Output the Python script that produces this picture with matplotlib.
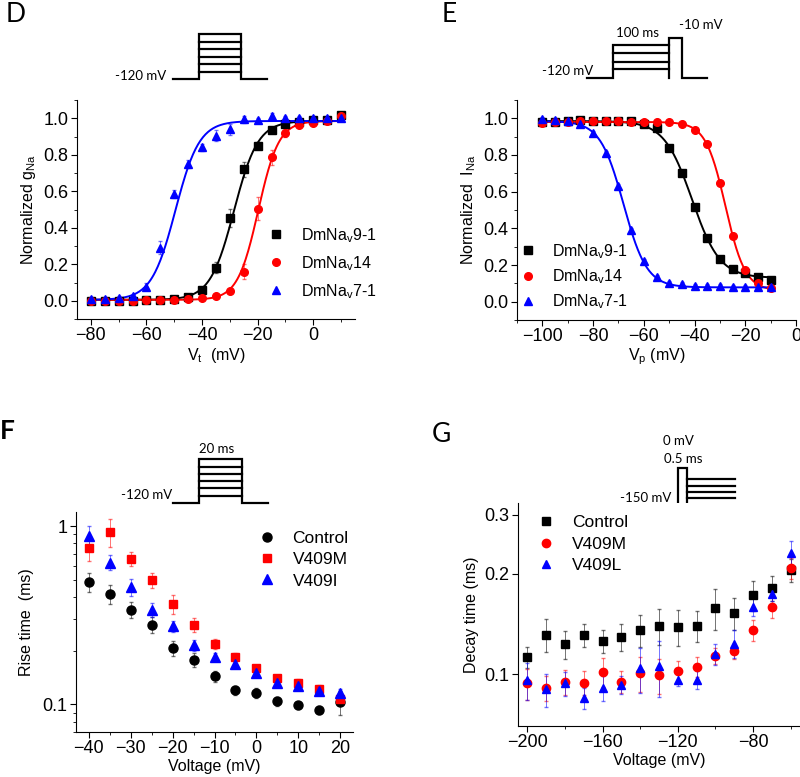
import numpy as np
import matplotlib
matplotlib.use('Agg')
import matplotlib.pyplot as plt
from matplotlib.ticker import MultipleLocator, FixedLocator, NullLocator, FixedFormatter

plt.rcParams['font.family'] = ['Liberation Sans', 'DejaVu Sans']
plt.rcParams['mathtext.fontset'] = 'custom'
plt.rcParams['mathtext.rm'] = 'Liberation Sans'
plt.rcParams['mathtext.it'] = 'Liberation Sans:italic'
plt.rcParams['font.size'] = 11.5

# ---- panel D : activation ----
vt = [-80, -75, -70, -65, -60, -55, -50, -45, -40, -35, -30, -25, -20, -15, -10, -5, 0, 5, 10]
d_91 = [0.0, 0.0, 0.0, 0.0, 0.005, 0.005, 0.01, 0.02, 0.058, 0.18, 0.455, 0.72, 0.85, 0.935, 0.97, 0.98, 0.99, 0.99, 1.02]
d_91_err = [0.005, 0.005, 0.005, 0.005, 0.005, 0.005, 0.005, 0.01, 0.01, 0.03, 0.05, 0.04, 0.02, 0.015, 0.01, 0.01, 0.01, 0.01, 0.01]
d_14 = [0.0, 0.0, 0.0, 0.0, 0.005, 0.005, 0.005, 0.01, 0.013, 0.027, 0.055, 0.16, 0.505, 0.785, 0.92, 0.965, 0.975, 0.985, 1.01]
d_14_err = [0.005, 0.005, 0.005, 0.005, 0.005, 0.005, 0.005, 0.005, 0.005, 0.01, 0.01, 0.04, 0.065, 0.04, 0.02, 0.01, 0.01, 0.01, 0.01]
d_71 = [0.012, 0.012, 0.015, 0.025, 0.078, 0.29, 0.585, 0.75, 0.84, 0.905, 0.94, 0.995, 0.99, 1.01, 1.0, 1.0, 1.0, 1.0, 1.0]
d_71_err = [0.01, 0.01, 0.01, 0.01, 0.02, 0.035, 0.02, 0.02, 0.02, 0.03, 0.03, 0.02, 0.01, 0.02, 0.01, 0.01, 0.01, 0.01, 0.01]
# Boltzmann fits: v_half, slope
d_fit = {'91': (-28.5, 4.3), '14': (-19.8, 3.7), '71': (-49.6, 4.3)}

# ---- panel E : inactivation ----
vp = [-100, -95, -90, -85, -80, -75, -70, -65, -60, -55, -50, -45, -40, -35, -30, -25, -20, -15, -10]
e_91 = [0.98, 0.98, 0.985, 0.99, 0.985, 0.985, 0.985, 0.985, 0.967, 0.945, 0.84, 0.70, 0.515, 0.345, 0.23, 0.178, 0.155, 0.136, 0.118]
e_14 = [0.975, 0.98, 0.98, 0.985, 0.985, 0.985, 0.985, 0.98, 0.98, 0.98, 0.98, 0.967, 0.937, 0.858, 0.645, 0.358, 0.173, 0.104, 0.072]
e_71 = [0.995, 0.99, 0.985, 0.97, 0.92, 0.81, 0.63, 0.39, 0.223, 0.133, 0.104, 0.095, 0.088, 0.085, 0.085, 0.082, 0.08, 0.08, 0.078]
e_err = [0.01] * 19
# top, bottom, v_half, slope
e_fit = {'91': (0.985, 0.13, -41.0, 5.5), '14': (0.98, 0.06, -27.8, 3.9), '71': (0.985, 0.078, -68.0, 4.6)}

# ---- panel F : rise time ----
vf = [-40, -35, -30, -25, -20, -15, -10, -5, 0, 5, 10, 15, 20]
f_ctrl = [0.487, 0.418, 0.340, 0.280, 0.208, 0.178, 0.144, 0.120, 0.116, 0.104, 0.0987, 0.0933, 0.103]
f_ctrl_err = [0.06, 0.05, 0.035, 0.03, 0.02, 0.015, 0.01, 0.007, 0.007, 0.006, 0.005, 0.005, 0.016]
f_m = [0.756, 0.929, 0.658, 0.497, 0.366, 0.279, 0.219, 0.185, 0.159, 0.141, 0.132, 0.1226, 0.1076]
f_m_err = [0.12, 0.17, 0.06, 0.05, 0.045, 0.025, 0.015, 0.01, 0.008, 0.006, 0.006, 0.006, 0.006]
f_i = [0.879, 0.625, 0.456, 0.340, 0.275, 0.214, 0.185, 0.169, 0.150, 0.132, 0.126, 0.119, 0.116]
f_i_err = [0.12, 0.06, 0.05, 0.03, 0.02, 0.015, 0.01, 0.01, 0.008, 0.006, 0.006, 0.006, 0.006]

# ---- panel G : decay time ----
vg = [-200, -190, -180, -170, -160, -150, -140, -130, -120, -110, -100, -90, -80, -70, -60]
g_ctrl = [0.1127, 0.1314, 0.1227, 0.131, 0.1255, 0.1294, 0.1354, 0.1395, 0.1386, 0.1395, 0.1576, 0.1525, 0.1723, 0.1812, 0.2047]
g_ctrl_err = [0.008, 0.015, 0.012, 0.01, 0.01, 0.012, 0.015, 0.017, 0.017, 0.015, 0.022, 0.017, 0.018, 0.016, 0.016]
g_m = [0.0938, 0.0910, 0.0949, 0.0944, 0.1016, 0.0949, 0.1005, 0.0993, 0.1023, 0.1052, 0.1134, 0.1172, 0.1354, 0.159, 0.208]
g_m_err = [0.01, 0.008, 0.008, 0.008, 0.01, 0.007, 0.012, 0.012, 0.007, 0.007, 0.006, 0.006, 0.01, 0.012, 0.015]
g_l = [0.096, 0.090, 0.0938, 0.0849, 0.091, 0.0931, 0.1040, 0.1057, 0.096, 0.096, 0.1148, 0.1235, 0.159, 0.1732, 0.2307]
g_l_err = [0.012, 0.01, 0.008, 0.006, 0.008, 0.006, 0.016, 0.02, 0.004, 0.006, 0.008, 0.012, 0.01, 0.008, 0.02]

BLACK, RED, BLUE = 'black', '#ff0000', '#0000ff'
W, H = 800, 777

fig = plt.figure(figsize=(8, 7.77), dpi=100)


def make_ax(l, t, r, b):
    ax = fig.add_axes([l / W, 1 - b / H, (r - l) / W, (b - t) / H])
    ax.spines['top'].set_visible(False)
    ax.spines['right'].set_visible(False)
    ax.tick_params(which='both', direction='out', labelsize=13, pad=2)
    ax.tick_params(which='major', length=4)
    ax.tick_params(which='minor', length=2.5)
    return ax


def errpts(ax, x, y, e, color, marker, ms, label):
    ax.errorbar(x, y, yerr=e, fmt='none', ecolor=color, elinewidth=0.7, capsize=1.5, alpha=0.55, zorder=2)
    ax.plot(x, y, linestyle='none', marker=marker, color=color, ms=ms, label=label, zorder=3)


lab91 = r'DmNa$_\mathrm{v}$9-1'
lab14 = r'DmNa$_\mathrm{v}$14'
lab71 = r'DmNa$_\mathrm{v}$7-1'
leg_kw = dict(frameon=False, handletextpad=1.0, handlelength=1.0)

# ---------- D ----------
axD = make_ax(77, 100, 355, 319)
xx = np.linspace(-80, 10, 300)
for key, col in [('91', BLACK), ('14', RED), ('71', BLUE)]:
    vh, k = d_fit[key]
    axD.plot(xx, 0.005 + 0.98 / (1 + np.exp((vh - xx) / k)), color=col, lw=1.4, zorder=1)
errpts(axD, vt, d_91, d_91_err, BLACK, 's', 5.5, lab91)
errpts(axD, vt, d_14, d_14_err, RED, 'o', 5.5, lab14)
errpts(axD, vt, d_71, d_71_err, BLUE, '^', 6, lab71)
axD.set_xlim(-85, 15)
axD.set_ylim(-0.1, 1.1)
axD.xaxis.set_major_locator(MultipleLocator(20))
axD.xaxis.set_minor_locator(MultipleLocator(10))
axD.yaxis.set_major_locator(MultipleLocator(0.2))
axD.yaxis.set_minor_locator(MultipleLocator(0.1))
axD.set_xlabel(r'V$_\mathrm{t}$  (mV)', labelpad=1)
axD.set_ylabel(r'Normalized g$_\mathrm{Na}$', labelpad=4)
axD.legend(loc='upper left', bbox_to_anchor=(0.635, 0.49), fontsize=11.5, labelspacing=0.58,
           frameon=False, handletextpad=1.05, handlelength=1.0)

# ---------- E ----------
axE = make_ax(517, 100, 796, 320)
xx = np.linspace(-100, -10, 300)
for key, col in [('91', BLACK), ('14', RED), ('71', BLUE)]:
    top, bot, vh, k = e_fit[key]
    axE.plot(xx, bot + (top - bot) / (1 + np.exp((xx - vh) / k)), color=col, lw=1.4, zorder=1)
errpts(axE, vp, e_91, e_err, BLACK, 's', 5.5, lab91)
errpts(axE, vp, e_14, e_err, RED, 'o', 5.5, lab14)
errpts(axE, vp, e_71, e_err, BLUE, '^', 6, lab71)
axE.set_xlim(-110, 0)
axE.set_ylim(-0.1, 1.1)
axE.xaxis.set_major_locator(MultipleLocator(20))
axE.xaxis.set_minor_locator(MultipleLocator(10))
axE.yaxis.set_major_locator(MultipleLocator(0.2))
axE.yaxis.set_minor_locator(MultipleLocator(0.1))
axE.set_xlabel(r'V$_\mathrm{p}$ (mV)', labelpad=1)
axE.set_ylabel(r'Normalized  I$_\mathrm{Na}$', labelpad=4)
axE.legend(loc='upper left', bbox_to_anchor=(-0.04, 0.42), fontsize=11.5, labelspacing=0.42, **leg_kw)

# ---------- F ----------
axF = make_ax(76, 512, 353, 732)
errpts(axF, vf, f_ctrl, f_ctrl_err, BLACK, 'o', 6.5, 'Control')
errpts(axF, vf, f_m, f_m_err, RED, 's', 6, 'V409M')
errpts(axF, vf, f_i, f_i_err, BLUE, '^', 6.5, 'V409I')
axF.set_yscale('log')
axF.set_xlim(-43, 23)
axF.set_ylim(0.07, 1.2)
axF.xaxis.set_major_locator(MultipleLocator(10))
axF.xaxis.set_minor_locator(MultipleLocator(5))
axF.yaxis.set_major_locator(FixedLocator([0.1, 1]))
axF.yaxis.set_major_formatter(FixedFormatter(['0.1', '1']))
axF.set_xlabel('Voltage (mV)', labelpad=1)
axF.set_ylabel('Rise time  (ms)', labelpad=6)
axF.legend(loc='upper left', bbox_to_anchor=(0.6, 0.985), fontsize=12.5, labelspacing=0.35, **leg_kw)

# ---------- G ----------
axG = make_ax(518, 503, 800, 726)
errpts(axG, vg, g_ctrl, g_ctrl_err, BLACK, 's', 5.5, 'Control')
errpts(axG, vg, g_m, g_m_err, RED, 'o', 6, 'V409M')
errpts(axG, vg, g_l, g_l_err, BLUE, '^', 6, 'V409L')
axG.set_yscale('log')
axG.set_xlim(-205, -55)
axG.set_ylim(0.07, 0.325)
axG.xaxis.set_major_locator(MultipleLocator(40))
axG.xaxis.set_minor_locator(MultipleLocator(20))
axG.yaxis.set_major_locator(FixedLocator([0.1, 0.2, 0.3]))
axG.yaxis.set_major_formatter(FixedFormatter(['0.1', '0.2', '0.3']))
axG.yaxis.set_minor_locator(NullLocator())
axG.set_xlabel('Voltage (mV)', labelpad=1)
axG.set_ylabel('Decay time (ms)', labelpad=4)
axG.legend(loc='upper left', bbox_to_anchor=(0.014, 1.015), fontsize=12.5, labelspacing=0.35, **leg_kw)

# ---------- protocol sketches and panel letters (pixel overlay) ----------
ov = fig.add_axes([0, 0, 1, 1], zorder=-1)
ov.set_xlim(0, W)
ov.set_ylim(H, 0)
ov.axis('off')
sk = dict(color='black', lw=1.6, solid_joinstyle='miter')
tf = dict(family=['Lato', 'DejaVu Sans'], fontsize=9.5, color='black')

# D: steps
d_levels = [34, 41.7, 49.3, 56.7, 64.3, 71.7]
ov.plot([173, 199, 199, 241, 241, 267], [79, 79, 34, 34, 79, 79], **sk)
for yl in d_levels[1:]:
    ov.plot([199, 241], [yl, yl], **sk)
ov.text(166, 76, '-120 mV', ha='right', va='center', **tf)

# E: prepulse + test pulse
e_levels = [45, 53.3, 61.7, 69.3]
ov.plot([587, 613, 613, 669, 669, 682, 682, 707], [78.3, 78.3, 45, 45, 38, 38, 78.3, 78.3], **sk)
ov.plot([669, 669], [45, 78.3], **sk)
for yl in e_levels[1:]:
    ov.plot([613, 669], [yl, yl], **sk)
ov.text(593, 71, '-120 mV', ha='right', va='center', **tf)
ov.text(637, 33, '100 ms', ha='center', va='center', **tf)
ov.text(701, 25, '-10 mV', ha='center', va='center', **tf)

# F: steps
f_levels = [459.3, 466.7, 474, 481, 488.3, 496]
ov.plot([173, 199.3, 199.3, 241.7, 241.7, 268.3], [503.3, 503.3, 459.3, 459.3, 503.3, 503.3], **sk)
for yl in f_levels[1:]:
    ov.plot([199.3, 241.7], [yl, yl], **sk)
ov.text(172, 495, '-120 mV', ha='right', va='center', **tf)
ov.text(216.7, 449, '20 ms', ha='center', va='center', **tf)

# G: prepulse then tail steps
g_levels = [479, 485.7, 492, 498.3, 505, 511.3, 517.7]
ov.plot([651.7, 678.3, 678.3, 686.7, 686.7], [507.3, 507.3, 467.7, 467.7, 517.7], **sk)
for yl in g_levels:
    ov.plot([686.7, 735], [yl, yl], **sk)
ov.text(671.7, 498.3, '-150 mV', ha='right', va='center', **tf)
ov.text(678.3, 441, '0 mV', ha='center', va='center', **tf)
ov.text(683.3, 459.3, '0.5 ms', ha='center', va='center', **tf)

lf = dict(family=['Lato', 'DejaVu Sans'], fontsize=19, color='black', va='center', ha='left')
ov.text(6, 15, 'D', **lf)
ov.text(442, 14, 'E', **lf)
ov.text(0, 431, 'F', fontweight='bold', **lf)
ov.text(432, 434, 'G', **lf)

fig.savefig('out.png', dpi=100)
